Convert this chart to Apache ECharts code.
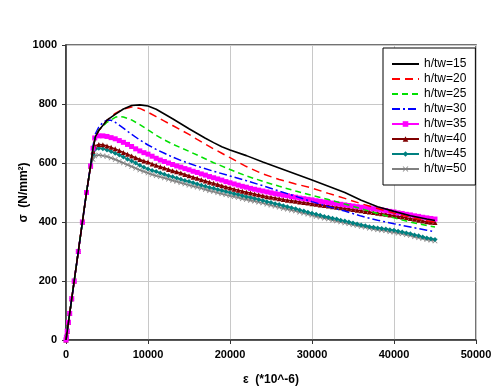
<!DOCTYPE html>
<html>
<head>
<meta charset="utf-8">
<script src="https://cdn.jsdelivr.net/npm/echarts@6/dist/echarts.min.js"></script>
<style>html,body{margin:0;padding:0;background:#fff;}#c{width:500px;height:392px;}</style>
</head>
<body>
<div id="c"></div>
<script>
// shared elastic branch
var strainBase = [0, 50, 150, 300, 450, 700, 1000, 1500, 2000, 2500, 3000];
var stressBase = [0, 10, 30, 60, 90, 140, 200, 300, 400, 500, 590];

// h/tw = 15 and 20
var strainA = [3300,3600,4000,5000,6000,7000,8000,9000,10000,11000,12000,13000,14000,15000,16000,17000,18000,19000,20000,22000,24000,26000,28000,30000,32000,34000,36000,38000,40000,42000,44000,45000];
var stress15 = [650,690,710,745,765,783,795,797,793,782,766,750,733,716,700,684,669,655,644,625,603,583,563,542,521,500,474,452,436,421,410,405];
var stress20 = [650,690,710,745,768,783,790,785,772,757,742,727,712,697,680,664,648,633,618,588,563,544,529,515,497,480,462,446,430,416,404,400];

// h/tw = 25
var strain25 = [3300,3600,4000,5000,6000,6500,7000,8000,9000,10000,11000,12000,13000,14000,16000,18000,20000,22000,24000,26000,28000,30000,32000,34000,36000,38000,40000,42000,44000,45000];
var stress25 = [650,690,712,738,755,758,756,746,730,712,694,678,664,652,627,601,578,556,538,521,505,490,476,461,445,429,414,400,388,383];

// h/tw = 30
var strain30 = [3300,3600,4000,4500,5000,5500,6000,7000,8000,9000,10000,11000,12000,13000,14000,16000,18000,20000,22000,24000,26000,28000,30000,32000,34000,36000,38000,40000,42000,44000,45000];
var stress30 = [660,700,722,738,745,745,738,718,697,678,661,646,633,620,609,589,572,556,540,523,505,487,469,452,437,420,406,394,383,372,367];

// h/tw = 35 .. 50 (marked series)
var strainB = [
  3300,3500,4000,4500,5000,5500,6000,6500,7000,7500,
  8000,8500,9000,9500,10000,10500,11000,11500,12000,12500,
  13000,13500,14000,14500,15000,15500,16000,16500,17000,17500,
  18000,18500,19000,19500,20000,20500,21000,21500,22000,22500,
  23000,23500,24000,24500,25000,25500,26000,26500,27000,27500,
  28000,28500,29000,29500,30000,30500,31000,31500,32000,32500,
  33000,33500,34000,34500,35000,35500,36000,36500,37000,37500,
  38000,38500,39000,39500,40000,40500,41000,41500,42000,42500,
  43000,43500,44000,44500,45000];
var stress35 = [
  650,685,692,692,690,686,682,676,670,663,
  656,648,641,635,630,623,616,610,605,600,
  595,590,586,581,577,572,568,563,559,554,
  550,546,542,537,533,529,525,521,518,514,
  511,508,505,502,499,496,494,491,489,486,
  484,481,479,477,475,472,470,468,466,464,
  462,460,458,456,454,452,450,448,447,445,
  443,441,439,436,434,431,429,426,424,421,
  419,416,414,412,410];
var stress40 = [
  640,658,663,662,658,653,648,642,636,630,
  624,618,612,607,603,597,592,587,583,578,
  574,570,566,561,557,552,548,543,539,535,
  531,527,523,519,515,511,508,504,501,498,
  495,492,489,486,484,481,479,476,474,472,
  470,468,466,464,462,460,458,456,454,452,
  450,448,446,444,442,440,438,436,434,432,
  430,428,426,424,422,419,417,414,412,409,
  406,403,401,399,398];
var stress45 = [
  630,645,650,648,644,639,633,627,620,613,
  607,600,592,586,580,575,571,566,562,557,
  553,549,545,541,537,533,529,525,521,517,
  514,510,507,503,500,496,493,489,486,483,
  480,476,473,469,466,462,459,455,452,448,
  445,441,437,433,430,426,423,419,416,413,
  410,406,403,400,397,393,390,387,384,382,
  380,378,376,374,372,369,366,363,360,356,
  353,349,346,343,341];
var stress50 = [
  612,624,627,625,622,617,612,606,600,594,
  588,582,576,571,566,561,557,553,549,545,
  541,537,533,529,525,521,518,514,510,506,
  503,499,496,492,489,486,483,479,476,473,
  470,467,464,460,457,453,450,446,443,440,
  437,433,430,426,423,419,416,413,410,406,
  403,400,397,394,391,388,385,382,379,376,
  374,372,370,367,365,362,360,357,354,350,
  347,344,341,338,336];

var names = ['h/tw=15','h/tw=20','h/tw=25','h/tw=30','h/tw=35','h/tw=40','h/tw=45','h/tw=50'];
var xTicks = [0, 10000, 20000, 30000, 40000, 50000];
var yTicks = [0, 200, 400, 600, 800, 1000];

function pairs(xs, ys) {
  var out = [];
  for (var i = 0; i < strainBase.length; i++) out.push([strainBase[i], stressBase[i]]);
  for (var j = 0; j < xs.length; j++) out.push([xs[j], ys[j]]);
  return out;
}

var crossPath = 'path://M0,1L1,0L5,4L9,0L10,1L6,5L10,9L9,10L5,6L1,10L0,9L4,5Z';

var defs = [
  {x: strainA, y: stress15, color: '#000000', type: 'solid', w: 1.6, sym: 'none'},
  {x: strainA, y: stress20, color: '#FF0000', type: [8, 5], w: 1.5, sym: 'none'},
  {x: strain25, y: stress25, color: '#00E000', type: [6, 4], w: 1.5, sym: 'none'},
  {x: strain30, y: stress30, color: '#0000FF', type: [8, 3, 2, 3], w: 1.5, sym: 'none'},
  {x: strainB, y: stress35, color: '#FF00FF', type: 'solid', w: 1.5, sym: 'rect', size: 5},
  {x: strainB, y: stress40, color: '#800000', type: 'solid', w: 1.5, sym: 'triangle', size: 5},
  {x: strainB, y: stress45, color: '#008080', type: 'solid', w: 1.5, sym: 'diamond', size: 5},
  {x: strainB, y: stress50, color: '#808080', type: 'solid', w: 1.5, sym: crossPath, size: 5}
];

var series = defs.map(function (d, i) {
  return {
    name: names[i],
    type: 'line',
    data: pairs(d.x, d.y),
    symbol: d.sym,
    symbolSize: d.size || 0,
    showSymbol: d.sym !== 'none',
    showAllSymbol: true,
    lineStyle: {color: d.color, width: d.w, type: d.type},
    itemStyle: {color: d.color},
    z: 10 - i,
    animation: false
  };
});

var legendData = defs.map(function (d, i) {
  return {name: names[i], itemStyle: {opacity: d.sym === 'none' ? 0 : 1}};
});

var chart = echarts.init(document.getElementById('c'));
var labelFont = {fontFamily: 'Liberation Sans, Arial, sans-serif', fontWeight: 'bold', fontSize: 11, color: '#000'};
chart.setOption({
  animation: false,
  backgroundColor: '#fff',
  grid: {left: 66, right: 24, top: 45, bottom: 52, show: true, borderColor: '#444', borderWidth: 1.5, backgroundColor: 'transparent'},
  xAxis: {
    type: 'value', min: xTicks[0], max: xTicks[xTicks.length - 1], interval: xTicks[1] - xTicks[0],
    name: 'ε  (*10^-6)', nameLocation: 'middle', nameGap: 34, nameMoveOverlap: false,
    nameTextStyle: {fontFamily: 'Liberation Sans, Arial, sans-serif', fontWeight: 'bold', fontSize: 12, color: '#000'},
    axisLine: {show: true, lineStyle: {color: '#333', width: 1.5}},
    axisTick: {show: true, length: 4, lineStyle: {color: '#333'}},
    axisLabel: Object.assign({margin: 9, formatter: function (v) { return String(v); }}, labelFont),
    splitLine: {show: true, lineStyle: {color: '#c8c8c8', width: 1}}
  },
  yAxis: {
    type: 'value', min: yTicks[0], max: yTicks[yTicks.length - 1], interval: yTicks[1] - yTicks[0],
    name: 'σ  (N/mm²)', nameLocation: 'middle', nameGap: 36, nameRotate: 90, nameMoveOverlap: false,
    nameTextStyle: {fontFamily: 'Liberation Sans, Arial, sans-serif', fontWeight: 'bold', fontSize: 12, color: '#000'},
    axisLine: {show: true, lineStyle: {color: '#333', width: 1.5}},
    axisTick: {show: true, length: 4, lineStyle: {color: '#333'}},
    axisLabel: Object.assign({margin: 9, formatter: function (v) { return String(v); }}, labelFont),
    splitLine: {show: true, lineStyle: {color: '#c8c8c8', width: 1}}
  },
  legend: {
    orient: 'vertical', left: 383, top: 48,
    padding: [10, 9, 10, 8], itemGap: 3, itemWidth: 27, itemHeight: 7,
    backgroundColor: '#fff', borderColor: '#000', borderWidth: 1,
    textStyle: {fontFamily: 'Liberation Sans, Arial, sans-serif', fontSize: 12, color: '#000', lineHeight: 11},
    data: legendData
  },
  series: series
});
</script>
</body>
</html>
